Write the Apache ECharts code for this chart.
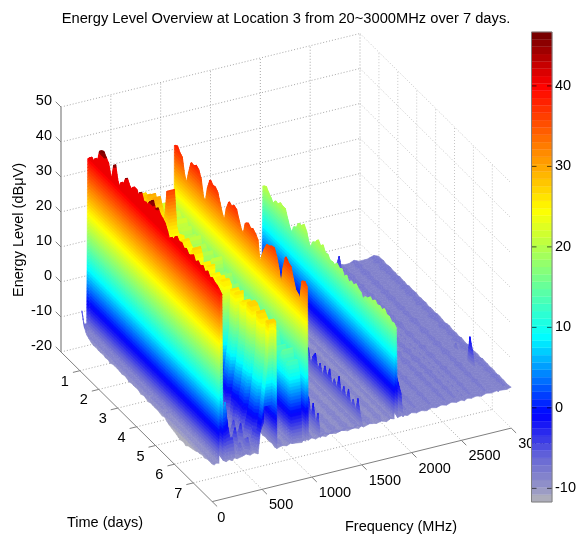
<!DOCTYPE html>
<html><head><meta charset="utf-8">
<style>html,body{margin:0;padding:0;background:#fff}#c{width:579px;height:536px}</style>
<script src="https://cdn.jsdelivr.net/npm/echarts@6/dist/echarts.min.js"></script>
</head><body><div id="c"></div>
<script>
const titleText = 'Energy Level Overview at Location 3 from 20~3000MHz over 7 days.';
const freqTicks = [0, 500, 1000, 1500, 2000, 2500, 3000];
const timeTicks = [1, 2, 3, 4, 5, 6, 7];
const levelTicks = [-20, -10, 0, 10, 20, 30, 40, 50];
const colorbarTicks = [-10, 0, 10, 20, 30, 40];
// sample times, 8 per day, day 1 to 8
const sampleDays = [1,1.125,1.25,1.375,1.5,1.625,1.75,1.875,2,2.125,2.25,2.375,2.5,2.625,2.75,2.875,3,3.125,3.25,3.375,3.5,3.625,3.75,3.875,4,4.125,4.25,4.375,4.5,4.625,4.75,4.875,5,5.125,5.25,5.375,5.5,5.625,5.75,5.875,6,6.125,6.25,6.375,6.5,6.625,6.75,6.875,7,7.125,7.25,7.375,7.5,7.625,7.75,7.875,8];
// level (dBuV) over time per spectral feature
const ridgeA = [40,41,40.2,42,41.5,45.5,46,45, 44,41,40.5,45.5,41.5,40,42.5,42.5, 45,43.5,43,44.5,44.5,43,45,43, 43.5,43,45,46,44,45.2,44,43.5, 42.8,41.2,39.2,40.8,40.6,42.4,41.6,42, 41,41.6,40.6,41,41.8,40.2,41.4,40.6, 41.4,40.2,41.2,40,40.6,40,39.8,39.2, 38.5];
const ridgeB = [26,27,26.5,28,27,29.5,27,30, 27.5,25,26,27,28,36,26,24.5, 25,25.5,12,26,25,24.5,8,25, 27,25,6,24,25.5,24,26,0, 25,24,25.5,24.5,26,25,-3,6, 26,25,26.5,-4,25,26,14,27, 27,26,-3,27,26,25,2,27, 27];
const rampHigh = [15,16,15,17,16,15,17,16, 15,17,16,15,17,16,15,17, 16,15,5,16,15,17,3,16, 15,17,2,16,15,17,16,-3, 15,17,16,15,17,16,-5,0, 16,15,17,-5,16,15,6,17, 16,15,-5,17,16,15,-3,17, 16];
const rampMid = [8,9,8,10,9,8,10,9, 8,10,9,8,10,9,8,10, 9,8,2,9,8,10,0,9, 8,10,-1,9,8,10,9,-4, 8,10,9,8,10,9,-6,-2, 9,8,10,-6,9,8,2,10, 9,8,-6,10,9,8,-5,10, 9];
const rampLow = [1,2,1,3,2,1,3,2, 1,3,2,1,3,2,1,3, 2,1,-2,2,1,3,-3,2, 1,3,-4,2,1,3,2,-6, 2,3,1,2,3,2,-7,-3, 3,2,4,-7,3,2,-1,3, 2,4,-7,3,2,3,-6,2, 1];
const midGreen = [22,21,23,20,22,21,19,22, 20,21,18,20,19,21,18,20, 19,17,20,18,16,19,21,17, 18,16,19,17,15,18,16,17, 15,17,14,16,18,15,13,16, 14,16,13,15,12,14,16,13, 12,14,11,13,15,11,13,10, 12];
const ridgeC = [37.7,38.2,37,36.4,32,30,34,37.4, 37.2,38,37.4,35.5,31,30,35,37.8, 37,37.2,36.4,34,31.5,30,34.5,36.9, 36.3,37.2,36.8,34.5,32.5,31.5,35.5,36.2, 35.4,35.9,35.2,34.2,28,31,33.5,35.4, 35.6,36.3,36.5,34.5,31.5,27.5,33.5,37.2, 36.2,35.9,33,30.5,30,29,35,35.5, 34.5];
const ridgeD = [19.9,20.3,19.2,18.4,17.3,18.9,18.6,19.7, 19.3,19.4,17.1,15.2,14.1,16.9,17.2,19.2, 19.1,20.2,18.9,16.4,15,17.9,18.4,19.8, 18.7,19.7,18.1,18.4,17.3,17.6,17.3,18.4, 17.6,18.2,16.6,17.7,16.2,17.4,16.8,17.9, 17.1,16.9,15.2,16.9,17.1,18.2,17.6,18.6, 17.9,18.4,17.9,18.8,17.8,18,17.1,17.4, 16.6];
const edgeLow = [-3,-7,-8.5,-9,-9.5,-9.7,-9.5,-9.7, -9.7,-9.5,-9.8,-9.6,-10,-9.6,-9.5,-9.6, -9.6,-9.8,-9.5,-9.6,-10,-9.7,-9.8,-9.7, -9.7,-10.2,-9.8,-9.9,-10.3,-10,-10,-10.1, -10,-10.2,-10.4,-10,-10.6,-11,-11.2,-11.4, -11.6,-12,-12,-11.8,-12.2,-11.6,-11.4,-11.2, -11,-10.6,-10.5,-10.2,-10.4,-10,-9.9,-10, -9.7];
const floorNear = [-7,-8,-8.4,-8.2,-8.6,-8.3,-8.7,-8.5, -8.4,-8.8,-8.3,-8.6,-8.9,-8.5,-8.2,-8.6, -8.7,-8.4,-8.9,-8.5,-8.3,-8.8,-8.6,-8.4, -8.7,-9,-8.5,-8.8,-9.1,-8.6,-8.9,-8.7, -9,-8.8,-9.2,-8.9,-9.4,-9.1,-9.3,-9.5, -9.4,-9.7,-9.3,-9.6,-9.4,-9.2,-9.5,-9.3, -9.2,-9.4,-9,-9.3,-9.1,-9.2,-9,-9.3, -9.1];
const floorGray = [-9.4,-9.2,-9.5,-9.3,-9.6,-9.2,-9.4,-9.5, -9.3,-9.6,-9.4,-9.2,-9.5,-9.7,-9.3,-9.4, -9.6,-9.2,-9.5,-9.4,-9.3,-9.6,-9.5,-9.2, -9.4,-9.7,-9.3,-9.5,-9.4,-9.2,-9.6,-9.3, -9.5,-9.4,-9.7,-9.3,-9.2,-9.5,-9.6,-9.4, -9.3,-9.5,-9.2,-9.6,-9.4,-9.7,-9.3,-9.5, -9.4,-9.2,-9.6,-9.3,-9.5,-9.4,-9.2,-9.6, -9.4];
const floorGray2 = [-8.6,-8.5,-8.7,-8.6,-8.7,-8.5,-8.6,-8.7, -8.5,-8.7,-8.6,-8.5,-8.6,-8.7,-8.5,-8.6, -8.7,-8.5,-8.6,-8.6,-8.5,-8.7,-8.6,-8.5, -8.6,-8.7,-8.5,-8.6,-8.6,-8.5,-8.7,-8.5, -8.6,-8.6,-8.7,-8.5,-8.5,-8.6,-8.7,-8.6, -8.5,-8.6,-8.5,-8.7,-8.6,-8.7,-8.5,-8.6, -8.6,-8.5,-8.7,-8.5,-8.6,-8.6,-8.5,-8.7, -8.6];
const floorViolet = [-8.3,-8.4,-8.2,-8.5,-8.3,-8.2,-8.4,-8.3, -8.5,-8.2,-8.4,-8.3,-8.6,-8.2,-8.4,-8.3, -8.2,-8.5,-8.3,-8.4,-8.2,-8.6,-8.3,-8.4, -8.5,-8.2,-8.3,-8.4,-8.6,-8.3,-8.2,-8.5, -8.4,-8.3,-8.6,-8.2,-8.4,-8.5,-8.3,-8.2, -8.5,-8.4,-8.3,-8.6,-8.2,-8.4,-8.3,-8.5, -8.3,-8.4,-8.6,-8.3,-8.5,-8.4,-8.6,-8.5, -8.7];
const floorViolet2 = [-7.7,-7.8,-7.6,-7.9,-7.7,-7.5,-7.8,-7.7, -7.9,-7.6,-7.8,-7.7,-7.9,-7.6,-7.8,-7.7, -7.6,-7.9,-7.7,-7.8,-7.6,-7.9,-7.7,-7.8, -7.9,-7.6,-7.7,-7.8,-7.9,-7.7,-7.6,-7.9, -7.8,-7.7,-7.9,-7.6,-7.8,-7.9,-7.7,-7.6, -7.9,-7.8,-7.7,-7.9,-7.6,-7.8,-7.7,-7.9, -7.7,-7.8,-7.9,-7.7,-7.9,-7.8,-7.9,-7.9, -8.4];
const streak1 = [-8,-8,-8,-8,-8,-8,-8,-8, -8,-8,-8,-8,-8,-8,-8,-8, -8,-8,-8,-8,-8,-8,-8,-8, -8,-8,-8,-8,-8,-8,-8,-8, -8,-8,-8,-8,-8,-8,-8,-8, -8,-8,-8,-8,-8,-8,-8,-8, -8,-6,-8,-5,-7,-2,-6,2, -3];
const streak2 = [-8,-8,-8,-8,-8,-8,-8,-8, -8,-8,-8,-8,-8,-8,-8,-8, -8,-8,-8,-8,-8,-8,-8,-8, -8,-8,-8,-8,-8,-8,-8,-8, -8,-8,-8,-8,-8,-8,-8,-8, -8,-8,-8,-8,-8,-8,-8,-8, -7,-8,-5,-7,-3,-6,5,-3, 2];
const streak3 = [-8,-8,-8,-8,-8,-8,-8,-8, -8,-8,-8,-8,-8,-8,-8,-8, -8,-8,-8,-8,-8,-8,-8,-8, -8,-8,-8,-8,-8,-8,-8,-8, -8,-8,-8,-8,-8,-8,-8,-8, -8,-8,-8,-8,-8,-8,-8,-8, -6,-8,-4,-7,-1,5,-1,-4, 1];
const streak4 = [-8,-8,-8,-8,-8,-8,-8,-8, -8,-8,-8,-8,-8,-8,-8,-8, -8,-8,-8,-8,-8,-8,-8,-8, -8,-8,-8,-8,-8,-8,-8,-8, -8,-8,-8,-8,-8,-8,-8,-8, -8,-8,-8,-8,-8,-8,-8,-8, -6,-7,-5,-1,-6,-3,-7,-4, -7];
const streak5 = [-8,-8,-8,-8,-8,-8,-8,-8, -8,-8,-8,-8,-8,-8,-8,-8, -8,-8,-8,-8,-8,-8,-8,-8, -8,-8,-8,-8,-8,-8,-8,-8, -8,-8,-8,-8,-8,-8,-8,-8, -8,-8,-8,-8,-8,-8,-8,-7.5, -7,-7.5,-5,-7,-6,-3,-7,-6, -8];
const streak6 = [-8,-8,-8,-8,-8,-8,-8,-8, -8,-8,-8,-8,-8,-8,-8,-8, -8,-8,-8,-8,-8,-8,-8,-8, -8,-8,-8,-8,-8,-8,-8,-8, -8,-8,-8,-8,-8,-8,-8,-8, -8,-8,-8,-8,-7,-8,-6,-8, -7,-4,-7,-6,-3,-7,-6,-5, -8];
const streak7 = [-8,-8,-8,-8,-8,-8,-8,-8, -8,-8,-8,-8,-8,-8,-8,-8, -8,-8,-8,-8,-8,-8,-8,-8, -8,-8,-8,-8,-8,-8,-8,-8, -8,-8,-8,-8,-8,-8,-7.5,-8, -6,-7.5,-5,-7,-7,-7.5,-3,-7, -6,-5,-7,-3,-6,-7,-4,-6, -8];
const spikes1085 = [-8.5,-8.7,-8.6,-8.8,-8.5,-8.7,-8.6,-8.8, -8.5,-8.7,-8.6,-8.8,-8.5,-8.7,-8.6,-8.8, -8.5,-8.7,-8.6,-8.8,-8.5,-8.7,-8.6,-8.8, -8.5,-8.7,-8.6,-8.8,-8.5,-8.7,-8.6,-8.8, -8.5,-8.7,-8.6,-8.8,-8.5,-8.7,-8.6,-8.8, -8.5,-8.7,-8.6,-8.8,-8.5,-8.7,-8.6,-8, -7,-8,-7,-1,-6,-1.5,-6.5,-3, -7];
const spikes1510 = [-8,-7,-8,-7.5,-8,-7,-8,-7.5, -8,-7,-8,-7.5,-8,-7,-8,-7.5, -8,-7,-8,-7.5,-8,-7,-8,-7.5, -8,-7,-8,-4,-7,-3,-6,-2.5, -6,-2,-6,-3,-1.5,-5.5,-3,-6, -2.5,-5,-2,-6,-3.5,-5.5,-1.5,-6, -3,-6,-2.5,-6.5,-4,-6.5,-2.5,-6.5, -7];
const spikes1915 = [-8,-8.2,-8,-8.3,-8,-8.2,-8,-8.3, -8,-8.2,-8,-8.3,-8,-8.2,-8,-8.3, -8,-8.2,-8,-8.3,-8,-8.2,-8,-8.3, -8,-8.2,-8,-8.3,-8,-8.2,-8,-8.3, -8,-8.2,-8,-8.3,-8,-8.2,-8,-8.3, -8,-8.2,-8,-8.3,-8,-8.2,-8,-8.3, -8,-8.2,-8,-8.3,-6,1,-1,-3, -6];
const spikes2530 = [-8,-8.1,-6,-3,-7,-8,-8.2,-8, -8.1,-8.2,-8,-8.1,-8,-8.2,-8,-8.1, -8.2,-8,-8.1,-8,-8.2,-8,-8.1,-8, -8.2,-8,-8.1,-8,-8.2,-8,-8.1,-8, -8.2,-8,-8.1,-8,-8.2,-8,-8.1,-8, -8.2,-8,-8.1,-8,-8.2,-8,-8.1,-8, -8.2,-8,-8.1,-8,-8.2,-8,-8.1,-8, -8.3];
const spikes2870 = [-8.3,-8.4,-8.2,-8.5,-8.3,-8.2,-8.4,-8.3, -8.5,-8.2,-8.4,-8.3,-8.6,-8.2,-8.4,-8.3, -8.2,-8.5,-8.3,-8.4,-8.2,-8.6,-8.3,-8.4, -8.5,-8.2,-8.3,-8.4,-8.6,-8.3,-8.2,-8.5, -8.4,-8.3,-8.6,-8.2,-8.4,-8.5,-7,-8.2, -8.5,-8.4,-8.3,-8.6,-1,-4,-8.3,-8.5, -8.3,-8.4,-8.6,-8.3,-8.5,-8.4,-8.6,-8.5, -8.7];
const levelSeries = {ridgeA,ridgeB,rampHigh,rampMid,rampLow,midGreen,ridgeC,ridgeD,edgeLow,floorNear,floorGray,floorGray2,floorViolet,floorViolet2,streak1,streak2,streak3,streak4,streak5,streak6,streak7,spikes1085,spikes1510,spikes1915,spikes2530,spikes2870};
// frequency columns of the surface, the feature each follows, and the level read at the front edge (day 8)
const columnFreqs  = [20,40,68,78,85,98,110,140,170,200,225,250,300,340,380,420,460,500,530,556,566,600,640,650,700,750,790,800,900,912,940,948,956,965,1000,1040,1075,1085,1095,1140,1180,1240,1300,1360,1420,1470,1500,1510,1520,1580,1650,1700,1750,1790,1825,1835,1848,1860,1905,1915,1925,1960,2000,2050,2100,2150,2200,2250,2300,2350,2400,2450,2500,2530,2560,2600,2650,2700,2750,2800,2860,2870,2880,2950,3000];
const columnSeries = ['edgeLow','floorNear','floorNear','ridgeA','ridgeA','ridgeA','floorGray2','streak1','streak2','streak3','streak4','floorGray','streak5','floorGray2','streak6','floorGray','streak7','rampLow','rampMid','rampHigh','ridgeB','ridgeB','ridgeB','floorGray','floorGray2','floorGray','floorGray2','midGreen','midGreen','floorGray','floorGray2','ridgeC','ridgeC','floorGray','floorGray2','floorGray','floorGray2','spikes1085','floorGray','floorGray2','floorGray','floorGray2','floorGray','floorGray2','floorGray','floorGray2','floorGray','spikes1510','floorGray','floorGray2','floorGray','floorGray2','floorGray','floorGray2','floorGray','ridgeD','ridgeD','floorViolet','floorViolet2','spikes1915','floorViolet','floorViolet2','floorViolet','floorViolet2','floorViolet','floorViolet','floorViolet2','floorViolet','floorViolet','floorViolet2','floorViolet','floorViolet2','floorViolet','spikes2530','floorViolet','floorViolet2','floorViolet','floorViolet','floorViolet2','floorViolet','floorViolet','spikes2870','floorViolet','floorViolet2','floorViolet'];
const frontLevels  = [-9.7,-9.3,-9.5,null,null,null,-9,-9.6,-9.2,-9.7,-9.1,-9.5,-9.2,-8.8,-9.4,-9,-9.6,null,null,null,null,null,null,-9.4,-8.9,-9.3,-8.8,-9,-9.4,-8.9,-9.3,null,null,-9.2,-8.8,-9.4,-9,-9.3,-8.9,-9.4,-8.8,-9.2,-8.7,-9.3,-8.9,-9.4,-8.8,-9.1,-9.3,-8.8,-9.2,-8.9,-9.4,-8.8,-9.1,null,null,-9,-8.7,-9.2,-8.8,-9.1,-8.6,-9,-8.7,-9.1,-8.6,-8.9,-8.5,-8.9,-8.4,-8.8,-8.5,-8.9,-8.4,-8.7,-8.4,-8.8,-8.3,-8.6,-8.3,-8.7,-8.4,-8.6,-8.3];
// colormap anchors: level, r, g, b
const colorAnchors = [[-11.7,182,182,182],[-10,150,150,200],[-8,125,125,205],[-6,100,100,215],[-3.5,50,50,235],[-0.8,0,0,255],[4,0,128,255],[8.9,0,255,255],[16.7,128,255,128],[24.5,255,255,0],[32.3,255,128,0],[40,255,0,0],[46.7,110,0,0]];
const barMin = -11.7, barMax = 46.7, bandCount = 64;
const surfaceRedFrom = 40.5, surfaceRedTo = 45.3;

function bandColor(i){
  const z = barMin + (i + 0.5) * (barMax - barMin) / bandCount;
  for (let k = 1; k < colorAnchors.length; k++) {
    const a = colorAnchors[k-1], b = colorAnchors[k];
    if (z <= b[0]) {
      const u = (z - a[0]) / (b[0] - a[0]);
      return 'rgb(' + [1,2,3].map(n => Math.round(a[n] + (b[n]-a[n])*u)).join(',') + ')';
    }
  }
  return 'rgb(110,0,0)';
}
const bandColors = Array.from({length: bandCount}, (_, i) => bandColor(i));
const bandStep = (barMax - barMin) / bandCount;
const bandOf = z => Math.max(0, Math.min(bandCount-1, Math.floor((z - barMin)/bandStep)));
function surfaceColor(b){
  const z = barMin + (b + 0.5) * bandStep;
  return (z > surfaceRedFrom && z < surfaceRedTo) ? bandColors[bandOf(surfaceRedFrom)] : bandColors[b];
}

// axonometric view of the box
const view = {x0:61, y0:352, xf:0.09967, yf:-0.0245, xt:18.9, yt:18.7, zs:3.5};
function project(f, t, z){
  return [view.x0 + view.xf*f + view.xt*t, view.y0 + view.yf*f + view.yt*t - view.zs*(z + 20)];
}
function levelAt(c, r){
  if (r === sampleDays.length - 1 && frontLevels[c] !== null) return frontLevels[c];
  return levelSeries[columnSeries[c]][r];
}
function clip(poly, level, keepAbove){
  const out = [];
  for (let i = 0; i < poly.length; i++) {
    const p = poly[i], q = poly[(i+1) % poly.length];
    const pIn = keepAbove ? p[2] >= level : p[2] <= level;
    const qIn = keepAbove ? q[2] >= level : q[2] <= level;
    if (pIn) out.push(p);
    if (pIn !== qIn) {
      const u = (level - p[2]) / (q[2] - p[2]);
      out.push([p[0]+(q[0]-p[0])*u, p[1]+(q[1]-p[1])*u, level]);
    }
  }
  return out;
}
const quadItems = [];
for (let c = columnFreqs.length - 2; c >= 0; c--)
  for (let r = 0; r < sampleDays.length - 1; r++) quadItems.push([c, r]);

function renderQuad(params, api){
  const c = api.value(0), r = api.value(1);
  const corners = [[c,r],[c+1,r],[c+1,r+1],[c,r+1]].map(([ci,ri]) => {
    const z = levelAt(ci, ri);
    const p = api.coord(project(columnFreqs[ci], sampleDays[ri], z));
    return [p[0], p[1], z];
  });
  const zs = corners.map(p => p[2]);
  const b0 = bandOf(Math.min(...zs)), b1 = bandOf(Math.max(...zs));
  const children = [];
  for (let b = b0; b <= b1; b++) {
    let poly = corners;
    if (b > 0) poly = clip(poly, barMin + b*bandStep, true);
    if (poly.length && b < bandCount-1) poly = clip(poly, barMin + (b+1)*bandStep, false);
    if (poly.length < 3) continue;
    const col = surfaceColor(b);
    children.push({type:'polygon', shape:{points: poly.map(p => [p[0], p[1]])},
      style:{fill: col, stroke: col, lineWidth: 0.6}});
  }
  return {type:'group', children};
}

// wall and floor grid segments, as [f,t,z] pairs plus a stroke colour
const maxF = 3000, maxT = 8, minZ = -20, maxZ = 50;
const gridSegments = [];
const backGrid = '#a8a8a8', sideGrid = '#c6c6c6';
levelTicks.forEach(z => {
  gridSegments.push([[0,0,z],[maxF,0,z],backGrid]);
  gridSegments.push([[maxF,0,z],[maxF,maxT,z],sideGrid]);
});
freqTicks.slice(1).forEach(f => {
  gridSegments.push([[f,0,minZ],[f,0,maxZ],backGrid]);
  if (f < maxF) gridSegments.push([[f,0,minZ],[f,maxT,minZ],backGrid]);
});
timeTicks.forEach(t => {
  gridSegments.push([[maxF,t,minZ],[maxF,t,maxZ],sideGrid]);
  gridSegments.push([[0,t,minZ],[maxF,t,minZ],backGrid]);
});
function segItem(seg, api, style){
  const a = api.coord(project(...seg[0])), b = api.coord(project(...seg[1]));
  return {type:'line', shape:{x1:a[0],y1:a[1],x2:b[0],y2:b[1]}, style};
}
const axisSegments = [
  {seg:[[0,0,minZ],[0,0,maxZ]], stroke:'#b4b4b4', w:2},
  {seg:[[0,0,minZ],[0,maxT,minZ]], stroke:'#808080', w:1},
  {seg:[[0,maxT,minZ],[maxF,maxT,minZ]], stroke:'#808080', w:1}
];
levelTicks.forEach(z => axisSegments.push({seg:[[0,0,z],[0,-0.28,z]], stroke:'#808080', w:1}));
timeTicks.forEach(t => axisSegments.push({seg:[[0,t,minZ],[-70,t,minZ]], stroke:'#808080', w:1}));
freqTicks.forEach(f => axisSegments.push({seg:[[f,maxT,minZ],[f,maxT+0.26,minZ]], stroke:'#808080', w:1}));

const labelFont = '14.5px "Liberation Sans", Arial, sans-serif';
const axisLabels = [];
levelTicks.forEach(z => { const p = project(0,0,z); axisLabels.push({x:p[0]-9, y:p[1]-6, text:String(z), align:'right'}); });
timeTicks.forEach(t => { const p = project(0,t,minZ); axisLabels.push({x:p[0]-15, y:p[1]+11, text:String(t), align:'center'}); });
freqTicks.forEach(f => { const p = project(f,maxT,minZ); axisLabels.push({x:p[0]+(f?7:5), y:p[1]+16, text:String(f), align:'left'}); });
axisLabels.push({x:105, y:523, text:'Time (days)', align:'center'});
axisLabels.push({x:401, y:527, text:'Frequency (MHz)', align:'center'});
axisLabels.push({x:19, y:230, text:'Energy Level (dB\u03bcV)', align:'center', rotate:Math.PI/2});

const bandItems = bandColors.map((_, i) => [barMin + i*bandStep, barMin + (i+1)*bandStep, i]);

const chart = echarts.init(document.getElementById('c'), null, {renderer:'canvas', width:579, height:536});
chart.setOption({
  animation:false,
  backgroundColor:'#fff',
  title:{text:titleText, left:281, top:6, textAlign:'center',
    textStyle:{fontFamily:'"Liberation Sans", Arial, sans-serif', fontSize:14.7, fontWeight:'normal', color:'#000'}},
  grid:[
    {left:0, top:0, width:579, height:536, show:false},
    {left:531.5, top:32, width:22, height:470, show:true, borderColor:'#808080', borderWidth:1, backgroundColor:'transparent', z:20}
  ],
  xAxis:[
    {gridIndex:0, type:'value', min:0, max:579, show:false},
    {gridIndex:1, type:'value', min:0, max:1, show:false}
  ],
  yAxis:[
    {gridIndex:0, type:'value', min:0, max:536, inverse:true, show:false},
    {gridIndex:1, type:'value', min:barMin, max:barMax, position:'right', z:30,
      axisLine:{show:false}, splitLine:{show:false}, axisTick:{show:false},
      axisLabel:{show:true, margin:3, color:'#000', fontSize:14.5, fontFamily:'"Liberation Sans", Arial, sans-serif', customValues:colorbarTicks, hideOverlap:false, showMinLabel:true, showMaxLabel:true}}
  ],
  series:[
    {type:'custom', name:'grid', xAxisIndex:0, yAxisIndex:0, z:1, silent:true, clip:false, data:gridSegments.map((_, i) => [i]),
      encode:{x:0},
      renderItem:(p, api) => { const g = gridSegments[api.value(0)]; return segItem(g, api, {stroke:g[2], lineWidth:1, lineDash:[1,2], fill:null}); }},
    {type:'custom', name:'surface', xAxisIndex:0, yAxisIndex:0, z:2, silent:true, clip:false, progressive:0, data:quadItems,
      encode:{x:0, y:1}, renderItem:renderQuad},
    {type:'custom', name:'axes', xAxisIndex:0, yAxisIndex:0, z:3, silent:true, clip:false, data:axisSegments.map((_, i) => [i]),
      encode:{x:0},
      renderItem:(p, api) => { const a = axisSegments[api.value(0)]; return segItem(a.seg, api, {stroke:a.stroke, lineWidth:a.w, fill:null}); }},
    {type:'custom', name:'labels', xAxisIndex:0, yAxisIndex:0, z:4, silent:true, clip:false, data:axisLabels.map((_, i) => [i]),
      encode:{x:0},
      renderItem:(p, api) => { const l = axisLabels[api.value(0)]; const c = api.coord([l.x, l.y]);
        return {type:'text', x:c[0], y:c[1], rotation:l.rotate||0,
          style:{text:l.text, textAlign:l.align, textVerticalAlign:'middle', font:labelFont, fill:'#000'}}; }},
    {type:'custom', name:'colorbarBands', xAxisIndex:1, yAxisIndex:1, z:10, silent:true, clip:false, progressive:0, data:bandItems,
      encode:{y:[0,1]},
      renderItem:(p, api) => { const lo = api.coord([0, api.value(0)]), hi = api.coord([1, api.value(1)]);
        const col = bandColors[api.value(2)];
        return {type:'rect', shape:{x:lo[0], y:hi[1], width:hi[0]-lo[0], height:lo[1]-hi[1]}, style:{fill:col, stroke:col, lineWidth:0.3}}; }},
    {type:'custom', name:'colorbarTicks', xAxisIndex:1, yAxisIndex:1, z:11, silent:true, clip:false, data:colorbarTicks.map(v => [v]),
      encode:{y:0},
      renderItem:(p, api) => { const a = api.coord([0, api.value(0)]), b = api.coord([1, api.value(0)]);
        const st = {stroke:'rgba(0,0,0,0.65)', lineWidth:1, fill:null};
        return {type:'group', children:[
          {type:'line', shape:{x1:a[0], y1:a[1], x2:a[0]+5, y2:a[1]}, style:st},
          {type:'line', shape:{x1:b[0]-5, y1:b[1], x2:b[0], y2:b[1]}, style:st}
        ]}; }}
  ]
});
</script></body></html>
